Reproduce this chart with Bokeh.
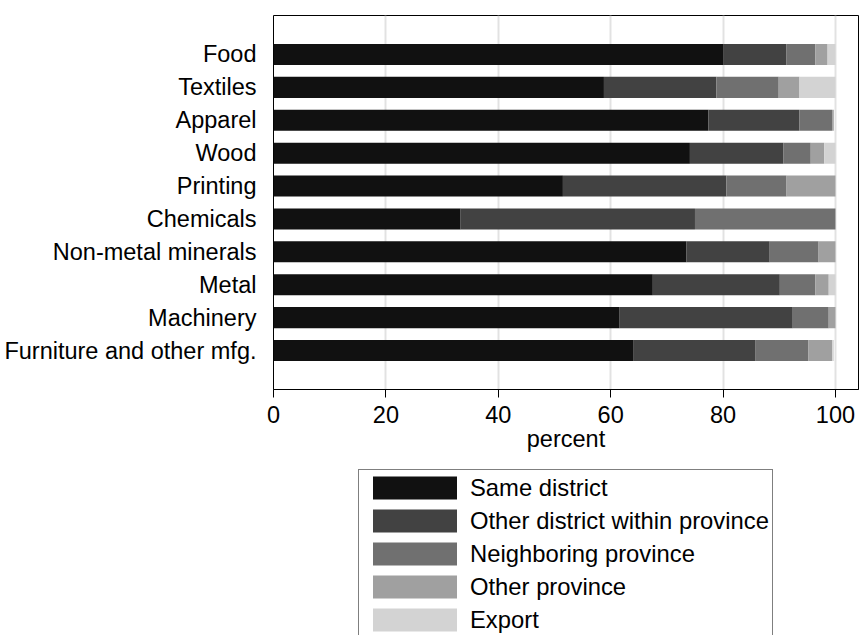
from bokeh.plotting import figure
from bokeh.models import (ColumnDataSource, FactorRange, Range1d, FixedTicker,
                          Legend, LegendItem)
from bokeh.layouts import column
from bokeh.embed import file_html
from bokeh.resources import INLINE

categories = ["Food", "Textiles", "Apparel", "Wood", "Printing", "Chemicals",
              "Non-metal minerals", "Metal", "Machinery", "Furniture and other mfg."]
same_district = [80.0, 58.8, 77.4, 74.1, 51.5, 33.3, 73.5, 67.5, 61.6, 64.1]
other_district = [11.3, 20.0, 16.2, 16.6, 29.1, 41.7, 14.8, 22.6, 30.8, 21.6]
neighboring = [5.1, 11.1, 5.8, 4.9, 10.7, 25.0, 8.7, 6.3, 6.4, 9.5]
other_province = [2.2, 3.7, 0.3, 2.4, 8.7, 0.0, 3.0, 2.4, 1.2, 4.2]
export = [1.4, 6.4, 0.0, 2.0, 0.0, 0.0, 0.0, 1.2, 0.0, 0.3]

series_keys = ["same", "otherdist", "neigh", "otherprov", "export"]
series_labels = ["Same district", "Other district within province",
                 "Neighboring province", "Other province", "Export"]
colors = ["#111111", "#424242", "#707070", "#a0a0a0", "#d3d3d3"]
x_ticks = [0, 20, 40, 60, 80, 100]

source = ColumnDataSource(dict(cat=categories, same=same_district,
                               otherdist=other_district, neigh=neighboring,
                               otherprov=other_province, export=export))

FONT = "Liberation Sans"
FS = "23.5px"
W = 859

p = figure(width=W, height=455, output_backend="svg", toolbar_location=None,
           y_range=FactorRange(factors=categories[::-1], range_padding=0.137,
                               range_padding_units="percent"),
           x_range=Range1d(0, 104.1),
           min_border_left=273, min_border_right=1, min_border_top=15,
           min_border_bottom=66)

renderers = p.hbar_stack(series_keys, y="cat", height=0.64, color=colors,
                         line_color=None, source=source)

p.outline_line_color = "black"
p.outline_line_width = 1
p.background_fill_color = "white"
p.border_fill_color = "white"

p.ygrid.grid_line_color = None
p.xgrid.ticker = FixedTicker(ticks=x_ticks)
p.xgrid.grid_line_color = "#e2e2e2"
p.xgrid.grid_line_width = 2

xa = p.xaxis[0]
xa.ticker = FixedTicker(ticks=x_ticks)
xa.axis_label = "percent"
xa.axis_label_text_font = FONT
xa.axis_label_text_font_size = FS
xa.axis_label_text_font_style = "normal"
xa.axis_label_text_color = "black"
xa.axis_label_standoff = 0
xa.major_label_text_font = FONT
xa.major_label_text_font_size = FS
xa.major_label_text_color = "black"
xa.major_label_standoff = 8
xa.major_tick_out = 8
xa.major_tick_in = 0
xa.major_tick_line_color = "black"
xa.minor_tick_line_color = None
xa.axis_line_color = "black"

ya = p.yaxis[0]
ya.major_label_text_font = FONT
ya.major_label_text_font_size = FS
ya.major_label_text_color = "black"
ya.major_label_standoff = 11
ya.major_tick_line_color = None
ya.minor_tick_line_color = None
ya.axis_line_color = None

# legend panel below the chart (hidden copy of the series supplies the swatches)
q = figure(width=W, height=180, output_backend="svg", toolbar_location=None,
           x_range=Range1d(0, 100), y_range=FactorRange(factors=categories[::-1]),
           min_border_left=273, min_border_right=1, min_border_top=0,
           min_border_bottom=0)
q.axis.visible = False
q.grid.grid_line_color = None
q.outline_line_color = None
q.background_fill_color = "white"
q.border_fill_color = "white"
proxies = q.hbar_stack(series_keys, y="cat", height=0.64, color=colors,
                       line_color=None, source=source, visible=False)

legend = Legend(items=[LegendItem(label=lab, renderers=[r])
                       for lab, r in zip(series_labels, proxies)],
                location=(85, -3), orientation="vertical")
legend.border_line_color = "black"
legend.border_line_width = 1
legend.background_fill_color = "white"
legend.inactive_fill_alpha = 0.0
legend.label_text_font = FONT
legend.label_text_font_size = "23.8px"
legend.label_text_color = "black"
legend.glyph_width = 105
legend.glyph_height = 29
legend.label_standoff = 3
legend.spacing = 4
legend.padding = 3
legend.margin = 0
legend.label_height = 23
q.add_layout(legend, "center")

layout = column(p, q, spacing=0)
open("out.html", "w").write(file_html(layout, INLINE))
